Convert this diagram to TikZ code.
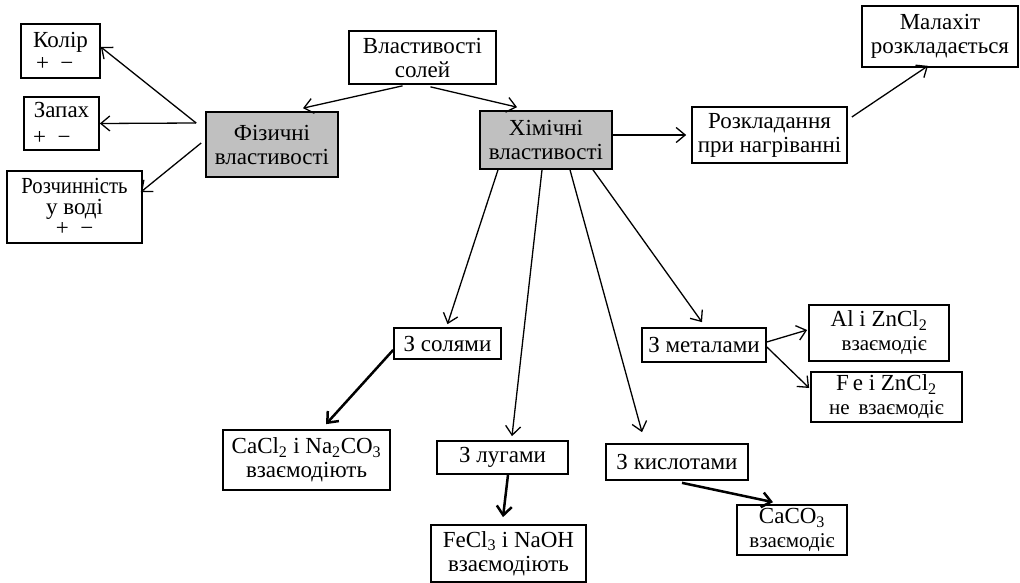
\documentclass[tikz,border=0pt]{standalone}
\usepackage{graphicx}
\usepackage{fontspec}
\setmainfont{Liberation Serif}
\usetikzlibrary{arrows.meta}
\definecolor{boxgray}{RGB}{192,192,192}
\newcommand{\narrowtxt}[1]{\scalebox{0.9}[1]{#1}}
\begin{document}
\begin{tikzpicture}[x=1pt,y=-1pt,
  box/.style={draw, line width=1.7pt, inner sep=0pt, align=center,
    font=\fontsize{23}{24}\selectfont},
  grey/.style={box, fill=boxgray},
  con/.style={-{Straight Barb[length=9pt,width=15pt]}, line width=1.3pt},
  thickcon/.style={con, line width=2.5pt}]
\useasboundingbox (0,0) rectangle (1020,583);
% nodes
\node[box, minimum width=79pt, minimum height=54pt, font=\fontsize{23}{23}\selectfont] (kolir) at (60.5,51) {Колір\\+ \ −\,\,\,};
\node[box, minimum width=75pt, minimum height=53pt, font=\fontsize{23}{27}\selectfont] (zapakh) at (61.5,123.5) {Запах\\+ \ −\,\,\,\,\,};
\node[box, minimum width=135pt, minimum height=72pt, font=\fontsize{23}{21}\selectfont] (rozch) at (74.5,207) {\narrowtxt{Розчинність}\\у воді\\+ \ −};
\node[grey, minimum width=132pt, minimum height=65pt] (fiz) at (272,144.5) {Фізичні\\властивості};
\node[box, minimum width=147pt, minimum height=53pt] (vlast) at (422.5,57.5) {Властивості\\солей};
\node[grey, minimum width=132pt, minimum height=58pt] (khim) at (546,140) {Хімічні\\властивості};
\node[box, minimum width=155pt, minimum height=56pt] (rozkl) at (769.5,135) {Розкладання\\при нагріванні};
\node[box, minimum width=156pt, minimum height=61pt] (malakh) at (940,36.5) {Малахіт\\розкладається};
\node[box, minimum width=107pt, minimum height=31pt] (solyamy) at (447.5,343.5) {З солями};
\node[box, minimum width=167pt, minimum height=60pt] (cacl) at (306.5,460) {CaCl\textsubscript{2} і Na\textsubscript{2}CO\textsubscript{3}\\взаємодіють};
\node[box, minimum width=131pt, minimum height=33pt] (lugamy) at (502.5,457.5) {З лугами};
\node[box, minimum width=155pt, minimum height=57pt] (fecl) at (508.5,553.5) {FeCl\textsubscript{3} і NaOH\\взаємодіють};
\node[box, minimum width=124pt, minimum height=34pt] (metal) at (704,345) {З металами};
\node[box, minimum width=140pt, minimum height=56pt] (al) at (879,333) {Al і ZnCl\textsubscript{2}\\{\fontsize{21}{20}\selectfont\,\,\,взаємодіє}};
\node[box, minimum width=151pt, minimum height=50pt] (fe) at (886.5,397) {F\,e і ZnCl\textsubscript{2}\\{\fontsize{21}{20}\selectfont не \,взаємодіє}};
\node[box, minimum width=142pt, minimum height=36pt] (kysl) at (677,462) {З кислотами};
\node[box, minimum width=110pt, minimum height=50pt] (caco) at (792,530) {CaCO\textsubscript{3}\\{\fontsize{21}{20}\selectfont взаємодіє}};
% connectors
\draw[con] ([shift={(-9,-21.5)}]fiz.west) -- ([shift={(0,-4)}]kolir.east);
\draw[con] ([shift={(-9,-21.5)}]fiz.west) -- (zapakh.east);
\draw[con] ([shift={(-4,-1.5)}]fiz.west) -- ([shift={(-2,-15)}]rozch.east);
\draw[con] ([shift={(-20,1)}]vlast.south) -- ([shift={(31,-3)}]fiz.north);
\draw[con] ([shift={(8,2)}]vlast.south) -- ([shift={(-29,-3)}]khim.north);
\draw[con] ([shift={(0,-5)}]khim.east) -- ([shift={(-5,0)}]rozkl.west);
\draw[con] ([shift={(4,-18)}]rozkl.east) -- ([shift={(-12,-2)}]malakh.south);
\draw[con] ([shift={(-48,0)}]khim.south) -- ([shift={(0,-3)}]solyamy.north);
\draw[con] ([shift={(-4,0)}]khim.south) -- ([shift={(9.5,-4)}]lugamy.north);
\draw[con] ([shift={(24,0)}]khim.south) -- ([shift={(-35,-11)}]kysl.north);
\draw[con] ([shift={(47,0)}]khim.south) -- ([shift={(-2,-5)}]metal.north);
\draw[con] ([shift={(0,-3)}]metal.east) -- ([shift={(-1,-3)}]al.west);
\draw[con] ([shift={(0,2)}]metal.east) -- ([shift={(-1,-9)}]fe.west);
\draw[thickcon] ([shift={(0,6.5)}]solyamy.west) -- ([shift={(19.5,-5)}]cacl.north);
\draw[thickcon] ([shift={(5.5,0)}]lugamy.south) -- ([shift={(-5.5,-7)}]fecl.north);
\draw[thickcon] ([shift={(5,2)}]kysl.south) -- ([shift={(-19,-2)}]caco.north);
\end{tikzpicture}
\end{document}
